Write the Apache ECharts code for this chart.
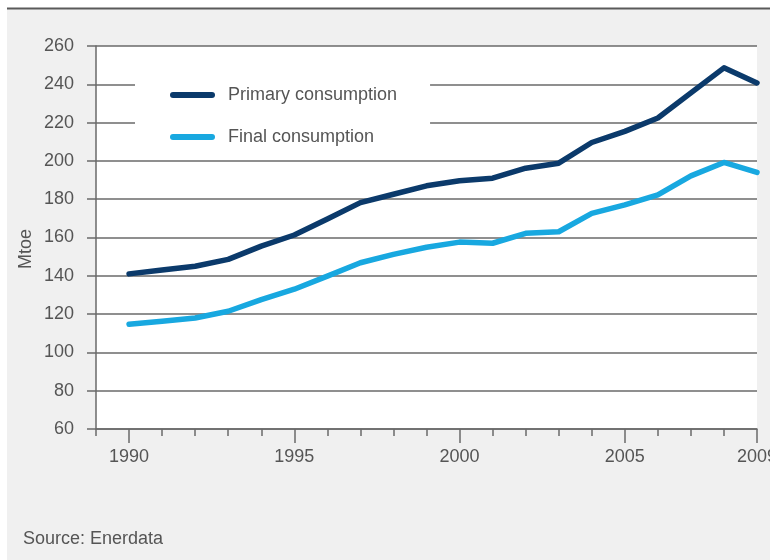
<!DOCTYPE html>
<html>
<head>
<meta charset="utf-8">
<script src="https://cdn.jsdelivr.net/npm/echarts@6/dist/echarts.min.js"></script>
<style>html,body{margin:0;padding:0;background:#fff}#c{width:770px;height:560px}</style>
</head>
<body>
<div id="c"></div>
<script>
const years = [1990,1991,1992,1993,1994,1995,1996,1997,1998,1999,2000,2001,2002,2003,2004,2005,2006,2007,2008,2009];
const primaryConsumption = [141,143,145,148.6,155.5,161.3,169.7,178.2,182.6,187,189.6,191,196.2,198.8,209.6,215.4,222.4,235.5,248.6,240.7];
const finalConsumption = [114.7,116.3,118,121.5,127.6,133,139.8,146.8,151.2,154.9,157.6,157,162.2,163,172.6,177,182.2,192.2,199.2,194];
const xTickLabels = [1990,1995,2000,2005,2009];
const seriesNames = ['Primary consumption','Final consumption'];
const yAxisName = 'Mtoe';
const sourceText = 'Source: Enerdata';

const font = '"Liberation Sans", Arial, Helvetica, sans-serif';
const txt = '#555';
const lineCol = '#6a6a6a';
const pill = 'path://M3,0 L42,0 A3,3 0 0 1 42,6 L3,6 A3,3 0 0 1 3,0 Z';

const chart = echarts.init(document.getElementById('c'), null, {renderer:'canvas'});
chart.setOption({
  backgroundColor: '#f0f0f0',
  animation: false,
  textStyle: {fontFamily: font},
  graphic: [
    {type:'rect', z:-10, shape:{x:0,y:0,width:770,height:8}, style:{fill:'#fff'}},
    {type:'rect', z:-10, shape:{x:0,y:0,width:7,height:560}, style:{fill:'#fff'}},
    {type:'line', z:-5, shape:{x1:7,y1:8.5,x2:770,y2:8.5}, style:{stroke:'#5a5a5a', lineWidth:2}},
    {type:'text', left:23, top:530, style:{text:sourceText, font:'18px ' + font, fill:txt}},
    {type:'text', x:17, y:269, rotation:Math.PI/2, style:{text:yAxisName, font:'18px ' + font, fill:txt}}
  ],
  grid: {left:96, right:13, top:46, bottom:131, show:true, backgroundColor:'#fff', borderWidth:0,
         outerBoundsMode:'none', containLabel:false},
  legend: {
    left:135, top:70, orient:'vertical',
    padding:[14,33,8,35], backgroundColor:'#fff',
    itemWidth:45, itemHeight:7, itemGap:20, icon:pill,
    textStyle:{fontSize:18, lineHeight:20, color:txt, padding:[2,0,0,8], fontFamily:font},
    data: seriesNames
  },
  xAxis: [
    {
      type:'value', min:1989, max:2009, interval:1, position:'bottom',
      axisLine:{show:true, lineStyle:{color:lineCol, width:1.5}},
      axisTick:{show:true, length:7, lineStyle:{color:lineCol, width:1.5}},
      splitLine:{show:false},
      axisLabel:{show:true, margin:19, fontSize:18, color:txt, fontFamily:font,
        showMinLabel:true, showMaxLabel:true, hideOverlap:false,
        formatter: v => xTickLabels.indexOf(v) >= 0 ? String(v) : ''}
    },
    {
      type:'value', min:1989, max:2009, position:'bottom',
      axisLine:{show:false},
      axisTick:{show:true, length:14, customValues:xTickLabels, lineStyle:{color:lineCol, width:1.5}},
      axisLabel:{show:false},
      splitLine:{show:false}
    }
  ],
  yAxis: {
    type:'value', min:60, max:260, interval:20,
    axisLine:{show:true, lineStyle:{color:lineCol, width:1.5}},
    axisTick:{show:true, length:9, lineStyle:{color:lineCol, width:1.5}},
    axisLabel:{margin:22, fontSize:18, color:txt, fontFamily:font},
    splitLine:{show:true, lineStyle:{color:lineCol, width:1.5}}
  },
  series: [
    {name:seriesNames[0], type:'line', xAxisIndex:0, showSymbol:false, symbol:'none',
     color:'#0b3a6b', lineStyle:{width:5.5, color:'#0b3a6b', cap:'round', join:'round'},
     data: years.map((y,i)=>[y, primaryConsumption[i]])},
    {name:seriesNames[1], type:'line', xAxisIndex:0, showSymbol:false, symbol:'none',
     color:'#18a8e0', lineStyle:{width:5.5, color:'#18a8e0', cap:'round', join:'round'},
     data: years.map((y,i)=>[y, finalConsumption[i]])}
  ]
});
</script>
</body>
</html>
